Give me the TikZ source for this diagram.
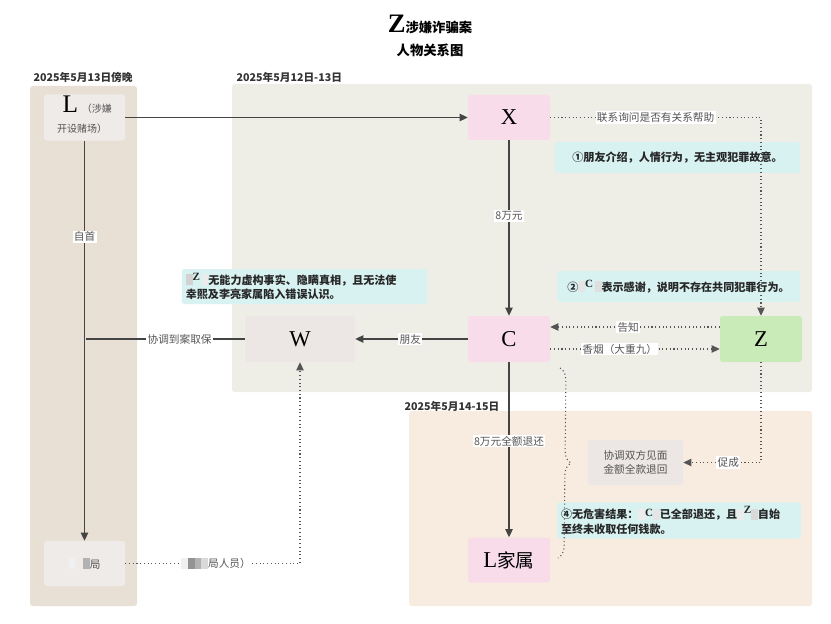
\documentclass[tikz,border=0pt]{standalone}
\usepackage{fontspec}
\setmainfont{Noto Sans CJK SC}
\newfontfamily\cjk{Noto Sans CJK SC}
\newfontfamily\ser{Liberation Serif}
\usetikzlibrary{arrows.meta,decorations.pathreplacing,calc}
\definecolor{bandL}{HTML}{E9E0D5}
\definecolor{bandM}{HTML}{EFEEE6}
\definecolor{bandB}{HTML}{F8ECE0}
\definecolor{boxgray}{HTML}{EFEBE9}
\definecolor{boxpink}{HTML}{F8DCEA}
\definecolor{boxgreen}{HTML}{C9EBB8}
\definecolor{notec}{HTML}{D8F1F1}
\definecolor{kfill}{HTML}{ECE7E4}
\definecolor{linec}{HTML}{444444}
\definecolor{labc}{HTML}{555555}
\newcommand\blr[1]{\textcolor{gray!#1}{\rule[-0.5pt]{5pt}{8pt}}}
\tikzset{
  band/.style={draw=none,rounded corners=2pt},
  person/.style={draw=none,rounded corners=2pt,inner sep=1pt,font=\ser\fontsize{17}{17}\selectfont},
  notebox/.style={draw=none,fill=notec,rounded corners=2pt,align=left,inner sep=3pt,font=\bfseries\fontsize{8.3}{11}\selectfont,text=black!85},
  lab/.style={fill=white,inner sep=1pt,text=labc,font=\fontsize{8}{9}\selectfont},
  bandlab/.style={anchor=west,font=\bfseries\fontsize{8}{9}\selectfont,text=black!80},
  arr/.style={draw=linec,line width=0.9pt,-{Triangle[length=6pt,width=5.5pt]}},
  sline/.style={draw=linec,line width=0.9pt},
  dotl/.style={draw=labc,line width=0.8pt,dotted},
  dotarr/.style={dotl,-{Triangle[length=6pt,width=5.5pt]}}
}
\begin{document}
\begin{tikzpicture}[x=0.75pt,y=-0.75pt]
\useasboundingbox (0,0) rectangle (831,624);
% bands
\fill[bandL,rounded corners=2pt] (30,86) rectangle (137,606);
\fill[bandM,rounded corners=2pt] (232,84) rectangle (812,392);
\fill[bandB,rounded corners=2pt] (409,411) rectangle (812,606);
\node[bandlab] (t1) at (29,77) {2025年5月13日傍晚};
\node[bandlab] (t2) at (232,77) {2025年5月12日-13日};
\node[bandlab] (t3) at (400,406) {2025年5月14-15日};
% title
\node (title) at (430,24) {{\ser\bfseries\fontsize{20}{20}\selectfont Z}{\bfseries\fontsize{10}{12}\selectfont 涉嫌诈骗案}};
\node[font=\bfseries\fontsize{10}{12}\selectfont] (sub) at (430,50) {人物关系图};
% nodes
\node[person,fill=boxgray,minimum width=60.75pt,minimum height=33.75pt,align=center,text=labc] (L) at (84.5,117.5)
  {\begin{tabular}{@{}l@{}}\hspace{4pt}{\color{black}\ser\fontsize{19}{19}\selectfont L}\,{\cjk\fontsize{7.5}{9}\selectfont （涉嫌}\\[-2pt]{\cjk\fontsize{7.5}{9}\selectfont 开设赌场）}\end{tabular}};
\node[person,fill=boxpink,minimum width=61.5pt,minimum height=33.75pt] (X) at (509,117.5) {X};
\node[person,fill=boxpink,minimum width=61.5pt,minimum height=34.5pt] (C) at (509,339) {C};
\node[person,fill=boxgreen,minimum width=61.5pt,minimum height=34.5pt] (Z) at (761,339) {Z};
\node[person,fill=kfill,minimum width=82.5pt,minimum height=34.5pt] (W) at (300,339) {W};
\node[person,fill=boxgray,minimum width=60.75pt,minimum height=33.75pt,font=\cjk\fontsize{8}{9}\selectfont,text=labc] (J) at (84.5,563.5) {\blr{12}\hspace{6pt}\blr{60}局};
\node[person,fill=boxpink,minimum width=61.5pt,minimum height=33.75pt] (LF) at (509,560) {L{\cjk\fontsize{14}{14}\selectfont 家属}};
\node[person,fill=kfill,minimum width=71.25pt,minimum height=33.75pt,align=center,font=\cjk\fontsize{8}{10.5}\selectfont,text=labc] (K) at (635.5,462.5) {协调双方见面\\金额全款退回};
% notes
\node[notebox,minimum width=183.75pt,minimum height=23.25pt,align=center] (n1) at (677.5,157.5) {①朋友介绍，人情行为，无主观犯罪故意。};
\node[notebox,minimum width=182.25pt,minimum height=23.25pt,align=center] (n2) at (678.5,286.5) {②\blr{20}\raisebox{3pt}{\ser\bfseries C}\,\blr{25}表示感谢，说明不存在共同犯罪行为。};
\node[notebox,minimum width=183.75pt,minimum height=23.25pt,text width=178pt] (n3) at (304.5,286.5) {\blr{35}\raisebox{3pt}{\ser\bfseries Z}\,\blr{15}无能力虚构事实、隐瞒真相，且无法使\\幸熙及李亮家属陷入错误认识。};
\node[notebox,minimum width=183pt,minimum height=23.25pt,text width=177pt] (n4) at (679,520.5) {④无危害结果：\blr{15}\raisebox{2pt}{\ser\bfseries C}\blr{20}已全部退还，且\blr{15}\raisebox{4pt}{\ser\bfseries Z}\blr{30}自始\\至终未收取任何钱款。};
% coordinates
\coordinate (wl) at (86,339);
\coordinate (bt) at (560,368);
\coordinate (bb) at (558,558);
% connectors
\draw[arr] (L.east) -- (X.west);
\draw[dotarr] (X.east) -| (Z.north) node[lab,pos=0.25] {联系询问是否有关系帮助};
\draw[arr] (X.south) -- (C.north) node[lab,pos=0.43] {8万元};
\draw[dotarr] ($(Z.west)+(0,-12)$) -- ($(C.east)+(0,-12)$) node[lab,pos=0.54] {告知};
\draw[dotarr] ($(C.east)+(0,10)$) -- ($(Z.west)+(0,10)$) node[lab,pos=0.41] {香烟（大重九）};
\draw[arr] (C.west) -- (W.east) node[lab,pos=0.51] {朋友};
\draw[sline] (W.west) -- (wl) node[lab,pos=0.41] {协调到案取保};
\draw[arr] (L.south) -- (J.north) node[lab,pos=0.24] {自首};
\draw[dotarr] (J.east) -| (W.south) node[lab,pos=0.26] {\blr{12}\blr{85}\blr{60}\blr{30}局人员）};
\draw[arr] (C.south) -- (LF.north) node[lab,pos=0.45] {8万元全额退还};
\draw[dotarr] (Z.south) |- (K.east) node[lab,pos=0.71] {促成};
\draw[dotl,decorate,decoration={brace,amplitude=9pt}] (bt) -- (bb);
\end{tikzpicture}
\end{document}
